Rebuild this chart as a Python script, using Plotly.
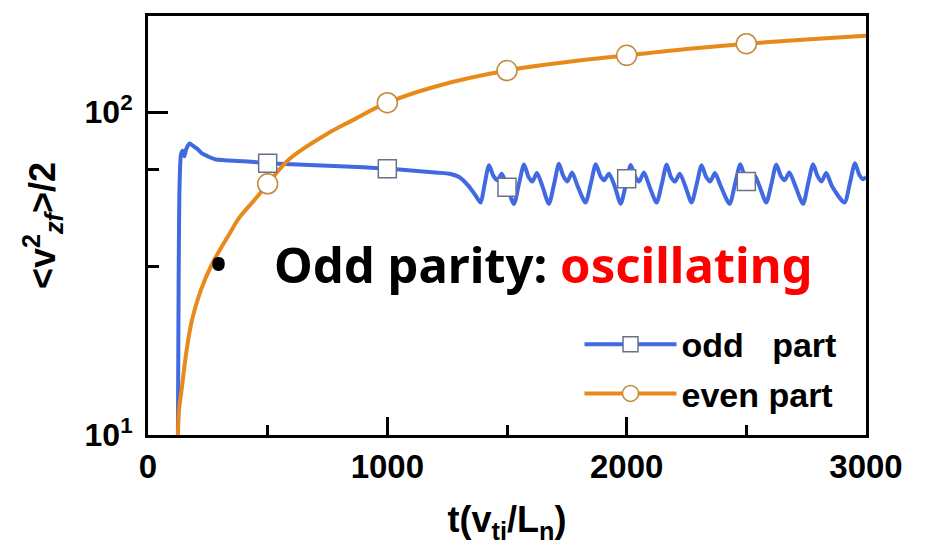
import plotly.graph_objects as go

# ---------------- data ----------------
odd_t = [125, 128, 132, 138, 145, 152, 160, 175, 185, 195, 210, 225, 250, 280, 320, 400,
         500, 600, 700, 800, 900, 1000, 1100, 1200, 1260, 1300, 1340, 1370, 1390,
         1405, 1425, 1443, 1460, 1478, 1500, 1529,
         1550, 1571, 1590, 1606, 1625, 1648, 1675,
         1697, 1717, 1735, 1752, 1772, 1795, 1828,
         1850, 1871, 1890, 1906, 1926, 1950, 1975,
         1997, 2017, 2036, 2052, 2072, 2095, 2125,
         2147, 2167, 2185, 2202, 2222, 2245, 2271,
         2293, 2313, 2332, 2349, 2369, 2393, 2430,
         2453, 2475, 2494, 2511, 2531, 2555, 2583,
         2605, 2625, 2644, 2660, 2680, 2705, 2737,
         2758, 2779, 2797, 2814, 2834, 2858, 2910,
         2932, 2954, 2972, 2988, 3000]
odd_v = [10, 30, 60, 74, 76, 73, 77, 80, 79, 78, 76.5, 74.5, 73, 71.5, 71, 70.5,
         69.5, 69, 68.5, 68, 67.5, 66.8, 66, 65, 64.5, 63, 59, 55, 52.5,
         59, 68.5, 63.5, 61.5, 64.5, 59, 52,
         60, 68.8, 63, 61, 64.8, 59, 52,
         60, 69.2, 63.5, 61, 65, 59, 52.5,
         60, 69, 63.5, 61.5, 64.5, 59, 52,
         60, 68.6, 63, 61, 65, 59, 52.5,
         60, 68.8, 63, 61, 64.5, 59, 52.5,
         60, 68.5, 63, 61, 64.8, 59, 52,
         60, 69, 63, 61, 64.5, 59, 52.5,
         60, 68.8, 63.5, 61.5, 65, 59, 52,
         60, 69, 63.5, 61, 64.8, 59, 52.5,
         60, 69.5, 64, 62, 63]

even_t = [125, 130, 142, 160, 183, 220, 267, 342, 383, 450, 500, 592, 746, 850,
          1000, 1217, 1500, 1750, 2000, 2250, 2500, 2750, 3000]
even_v = [10, 12, 14.1, 18, 22.6, 28, 33.8, 42.2, 47.3, 54, 60, 71.7, 85.5, 94,
          107, 121, 134.6, 143, 150, 157, 163, 168, 172.5]

marker_t = [500, 1000, 1500, 2000, 2500]
odd_marker_v = [69.5, 66.8, 58.5, 62.2, 61]
even_marker_v = [60, 107, 134.6, 150, 163]

x_ticks = [0, 1000, 2000, 3000]
x_ticktext = ["0", "1000", "2000", "3000"]
x_minor_ticks = [500, 1500, 2500]
y_ticks = [10, 100]
y_ticktext = ["10<sup>1</sup>", "10<sup>2</sup>"]
y_minor_ticks = [33.3, 66.3]

names = ["odd\u00a0\u00a0\u00a0part", "even part"]

BLUE = "#4169E1"
ORANGE = "#E88A1A"
FONT = "Liberation Sans, Arial, sans-serif"

fig = go.Figure()

fig.add_trace(go.Scatter(x=odd_t, y=odd_v, mode="lines",
                         line=dict(color=BLUE, width=4, shape="spline", smoothing=0.7),
                         showlegend=False, hoverinfo="skip"))
fig.add_trace(go.Scatter(x=even_t, y=even_v, mode="lines",
                         line=dict(color=ORANGE, width=4, shape="spline"),
                         showlegend=False, hoverinfo="skip"))
fig.add_trace(go.Scatter(x=marker_t, y=odd_marker_v, mode="markers",
                         marker=dict(symbol="square", size=18, color="white",
                                     line=dict(color="#6a7088", width=1.5)),
                         showlegend=False))
fig.add_trace(go.Scatter(x=marker_t, y=even_marker_v, mode="markers",
                         marker=dict(symbol="circle", size=20, color="white",
                                     line=dict(color="#c48a3c", width=1.5)),
                         showlegend=False))
# legend entries
fig.add_trace(go.Scatter(x=[None], y=[None], mode="lines+markers", name=names[0], legendgroup="odd",
                         line=dict(color=BLUE, width=4),
                         marker=dict(symbol="square", size=15, color="white",
                                     line=dict(color="#6a7088", width=1.5))))
fig.add_trace(go.Scatter(x=[None], y=[None], mode="lines+markers", name=names[1], legendgroup="even",
                         line=dict(color=ORANGE, width=4),
                         marker=dict(symbol="circle", size=16, color="white",
                                     line=dict(color="#c48a3c", width=1.5))))

# page body has an 8px default margin, so the figure is sized/offset to compensate
fig.update_layout(
    width=923, height=543,
    margin=dict(l=140, r=65, t=5, b=116),
    paper_bgcolor="white", plot_bgcolor="white",
    font=dict(family=FONT, color="black"),
    legend=dict(x=0.601, y=0.285, xanchor="left", yanchor="top",
                bgcolor="rgba(0,0,0,0)", borderwidth=0,
                font=dict(family=FONT, size=34, color="black", weight="bold"),
                traceorder="grouped", tracegroupgap=2, itemwidth=92),
    annotations=[
        dict(text="•", xref="paper", yref="paper", x=0.0975, y=0.41,
             xanchor="center", yanchor="middle", showarrow=False,
             font=dict(family="Noto Sans", size=56, color="black")),
        dict(text="<b>Odd parity: </b><b><span style='color:#FF0000'>oscillating</span></b>",
             xref="paper", yref="paper", x=0.1727, y=0.408,
             xanchor="left", yanchor="middle", showarrow=False,
             font=dict(family="Noto Sans", size=49, color="black")),
    ],
)

fig.update_xaxes(
    range=[0, 3000], tickmode="array", tickvals=x_ticks, ticktext=x_ticktext,
    ticks="inside", ticklen=18, tickwidth=2.5, tickcolor="black",
    showline=True, linewidth=3, linecolor="black", mirror=True,
    showgrid=False, zeroline=False,
    tickfont=dict(family=FONT, size=33, color="black", weight="bold"),
    ticklabelstandoff=0,
    minor=dict(tickmode="array", tickvals=x_minor_ticks, ticks="inside", ticklen=10,
               tickwidth=2.5, tickcolor="black", showgrid=False),
    title=dict(text="t(v<sub>ti</sub>/L<sub>n</sub>)", standoff=24,
               font=dict(family=FONT, size=36, color="black", weight="bold")),
)

fig.update_yaxes(
    type="log", range=[1, 2.298], tickmode="array", tickvals=y_ticks, ticktext=y_ticktext,
    ticks="inside", ticklen=20, tickwidth=2.5, tickcolor="black",
    showline=True, linewidth=3, linecolor="black", mirror=True,
    showgrid=False, zeroline=False,
    tickfont=dict(family=FONT, size=32, color="black", weight="bold"),
    ticklabelstandoff=6,
    minor=dict(tickmode="array", tickvals=y_minor_ticks, ticks="inside", ticklen=11,
               tickwidth=2.5, tickcolor="black", showgrid=False),
    title=dict(text="&lt;v<sup>2</sup><sub><i>zf</i></sub>&gt;/2", standoff=18,
               font=dict(family=FONT, size=36, color="black", weight="bold")),
)

fig.write_html("out.html")
